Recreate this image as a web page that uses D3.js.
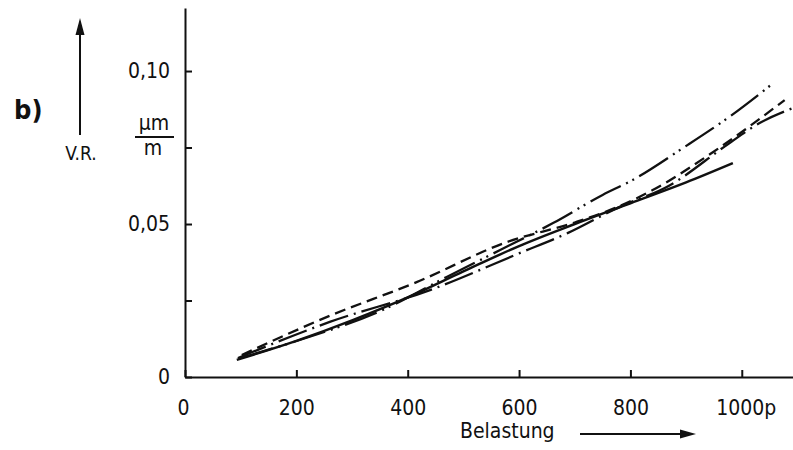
<!DOCTYPE html>
<html>
<head>
<meta charset="utf-8">
<script src="https://cdn.jsdelivr.net/npm/d3@7"></script>
<style>
body { margin: 0; background: #fff; }
svg { display: block; }
text { font-family: "DejaVu Sans Condensed", "DejaVu Sans", sans-serif; fill: #111; }
</style>
</head>
<body>
<svg id="chart" width="793" height="450"></svg>
<script>
// tick values and labels
const xTicks = [0, 200, 400, 600, 800, 1000]
const xTickLabels = ['0', '200', '400', '600', '800', '1000p']
const yTicks = [0, 0.025, 0.05, 0.075, 0.10]
const yTickLabels = ['0', '', '0,05', '', '0,10']

// Belastung (p) and V.R. (µm/m) for each curve
const solidLoad = [93, 200, 300, 400, 500, 600, 700, 800, 900, 984]
const solidVR = [0.0056, 0.0118, 0.0185, 0.026, 0.0345, 0.0428, 0.050, 0.0568, 0.0636, 0.0699]

const dashedLoad = [102, 260, 416, 578, 700, 781, 840, 946, 1077]
const dashedVR = [0.0072, 0.020, 0.031, 0.0441, 0.0505, 0.0559, 0.0611, 0.0732, 0.0905]

const dashDotLoad = [95, 260, 440, 601, 688, 776, 871, 973, 1032, 1092]
const dashDotVR = [0.0062, 0.018, 0.0284, 0.0405, 0.0471, 0.0552, 0.0627, 0.0758, 0.083, 0.0879]

const dashDotDotLoad = [99, 206, 355, 470, 566, 661, 750, 804, 894, 982, 1059]
const dashDotDotVR = [0.0062, 0.0121, 0.0219, 0.0327, 0.0415, 0.0503, 0.0595, 0.0644, 0.0748, 0.0856, 0.0964]

const svg = d3.select('#chart')

const x = d3.scaleLinear([0, 1092], [185, 793])
const y = d3.scaleLinear([0, 0.1206], [377, 8])

const series = [
    {load: solidLoad, vr: solidVR, dash: null, w: 2.5},
    {load: dashedLoad, vr: dashedVR, dash: '11 6', w: 2.3},
    {load: dashDotLoad, vr: dashDotVR, dash: '30 6 2 6', w: 2.3},
    {load: dashDotDotLoad, vr: dashDotDotVR, dash: '34 6 2 5 2 6', w: 2.3}
]

const line = d3.line()
    .x(d => x(d[0]))
    .y(d => y(d[1]))
    .curve(d3.curveMonotoneX)

svg.append('g')
    .selectAll('path')
    .data(series)
    .join('path')
    .attr('d', s => line(d3.zip(s.load, s.vr)))
    .attr('fill', 'none')
    .attr('stroke', '#111')
    .attr('stroke-width', s => s.w)
    .attr('stroke-dasharray', s => s.dash)

// axes
const xAxis = d3.axisBottom(x)
    .tickValues(xTicks)
    .tickFormat((d, i) => xTickLabels[i])
    .tickSizeInner(-7)
    .tickSizeOuter(0)
    .tickPadding(23)

const yAxis = d3.axisLeft(y)
    .tickValues(yTicks)
    .tickFormat((d, i) => yTickLabels[i])
    .tickSizeInner(-7)
    .tickSizeOuter(0)
    .tickPadding(15)

const gx = svg.append('g')
    .attr('transform', 'translate(0,377)')
    .call(xAxis)
const gy = svg.append('g')
    .attr('transform', 'translate(185,0)')
    .call(yAxis)

for (const g of [gx, gy]) {
    g.select('.domain').attr('stroke', '#111').attr('stroke-width', 2)
    g.selectAll('.tick line').attr('stroke', '#111').attr('stroke-width', 2)
    g.selectAll('.tick text')
        .attr('font-size', '21px')
        .attr('fill', '#111')
        .attr('font-family', '"DejaVu Sans Condensed", "DejaVu Sans", sans-serif')
}
gx.selectAll('.tick text').filter(d => d === 1000).attr('dx', 4)
gx.selectAll('.tick text').filter(d => d === 0).attr('dx', -2)

// unit µm / m
svg.append('text').text('µm')
    .attr('x', 154).attr('y', 130)
    .attr('text-anchor', 'middle').attr('font-size', '21px')
svg.append('line')
    .attr('x1', 135).attr('x2', 174).attr('y1', 137).attr('y2', 137)
    .attr('stroke', '#111').attr('stroke-width', 2)
svg.append('text').text('m')
    .attr('x', 153).attr('y', 155)
    .attr('text-anchor', 'middle').attr('font-size', '21px')

// V.R. arrow
svg.append('line')
    .attr('x1', 80).attr('x2', 80).attr('y1', 135).attr('y2', 30)
    .attr('stroke', '#111').attr('stroke-width', 2)
svg.append('path')
    .attr('d', 'M80,18 L75.5,35 L84.5,35 Z')
    .attr('fill', '#111')
svg.append('text').text('V.R.')
    .attr('x', 81).attr('y', 160)
    .attr('text-anchor', 'middle').attr('font-size', '19px')

// panel letter
svg.append('text').text('b)')
    .attr('x', 14).attr('y', 119)
    .attr('font-family', '"Liberation Mono", "DejaVu Sans Mono", monospace')
    .attr('font-weight', 'bold')
    .attr('font-size', '27px')

// x label with arrow
svg.append('text').text('Belastung')
    .attr('x', 460).attr('y', 438)
    .attr('font-size', '21px')
svg.append('line')
    .attr('x1', 580).attr('x2', 684).attr('y1', 434).attr('y2', 434)
    .attr('stroke', '#111').attr('stroke-width', 1.8)
svg.append('path')
    .attr('d', 'M696,434 L680,429.5 L680,438.5 Z')
    .attr('fill', '#111')
</script>
</body>
</html>
